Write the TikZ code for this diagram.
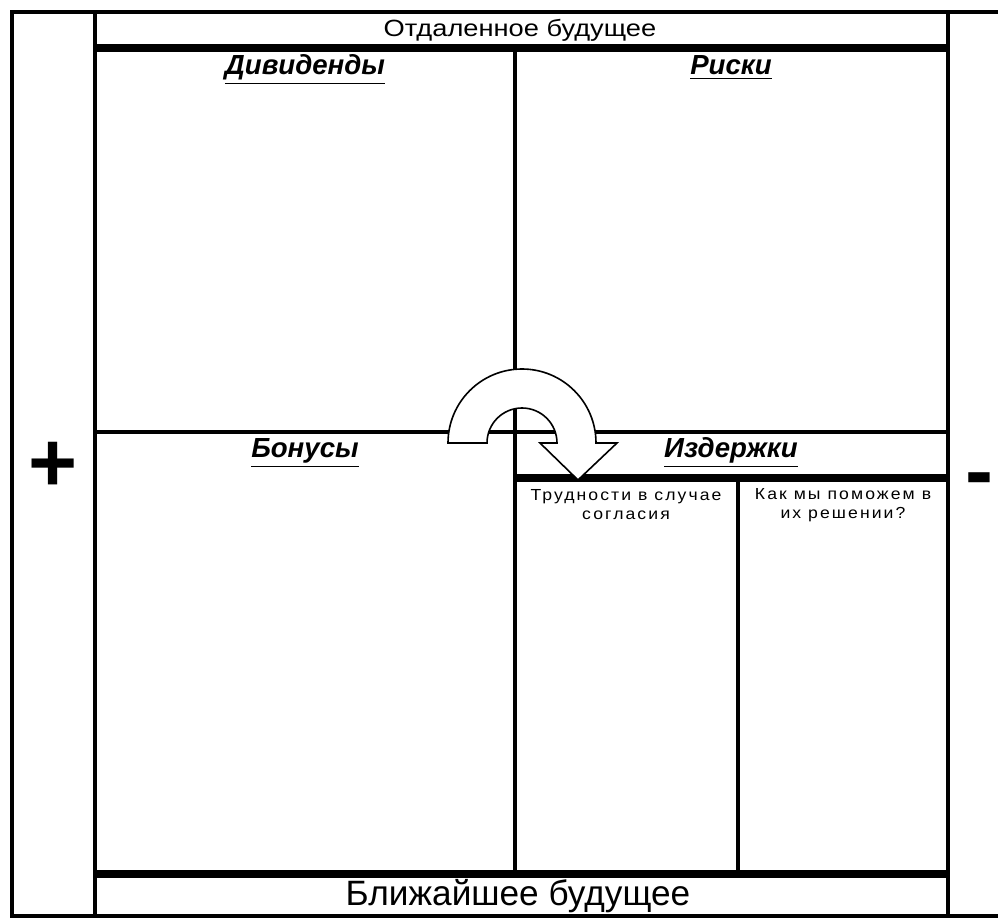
\documentclass[tikz,border=0pt]{standalone}
\usepackage{fontspec}
\setmainfont{Liberation Sans}
\newfontfamily\widefont[FakeStretch=1.16]{Liberation Sans}
\newfontfamily\spacedfont[FakeStretch=1.1,LetterSpace=13]{Liberation Sans}
\usepackage{tikz}

\begin{document}
\begin{tikzpicture}[x=0.5pt,y=-0.5pt,
    rule/.style={line width=2.4pt,line cap=rect},
    boldrule/.style={line width=3.8pt},
    heading/.style={font=\fontsize{13.8}{15}\selectfont\bfseries\itshape,anchor=base},
    note/.style={font=\spacedfont\fontsize{8}{9.5}\selectfont,align=center,inner sep=0pt},
    sign/.style={font=\fontsize{42}{42}\selectfont\bfseries,inner sep=0pt},
    turnarrow/.style={fill=white,draw=black,line width=0.8pt,line join=miter}]
    \useasboundingbox (0,0) rectangle (998,920);
    \draw[rule] (998,12)--(12,12)--(12,916)--(998,916);
    \draw[rule] (95,12)--(95,916);
    \draw[rule] (948,12)--(948,916);
    \draw[boldrule] (95,48)--(948,48);
    \draw[boldrule] (95,874)--(948,874);
    \draw[rule] (515,48)--(515,874);
    \draw[rule] (95,432)--(948,432);
    \draw[boldrule] (515,478)--(948,478);
    \draw[rule] (738,478)--(738,874);
    \draw[turnarrow] (448,443) arc[start angle=180,end angle=360,radius=74]
        --(617,443)--(578,480)--(540,443)--(557,443)
        arc[start angle=360,end angle=180,radius=35]--cycle;
    \node (far) at (520,30) {\widefont\fontsize{11.75}{13}\selectfont Отдаленное будущее};
    \node (near) at (518,896) {\fontsize{17.6}{19}\selectfont Ближайшее будущее};
    \node[heading] (dividends) at (305,75) {\underline{Дивиденды}};
    \node[heading] (risks) at (731,75) {\underline{Риски}};
    \node[heading] (bonuses) at (305,458) {\underline{Бонусы}};
    \node[heading] (costs) at (731,458) {\underline{Издержки}};
    \node[note] (hardship) at (626,505) {Трудности в случае\\согласия};
    \node[note] (help) at (843,505) {Как мы поможем в\\их решении?};
    \node[sign] (plus) at (53,467) {+};
    \node[sign] (minus) at (979,486) {-};
\end{tikzpicture}
\end{document}
